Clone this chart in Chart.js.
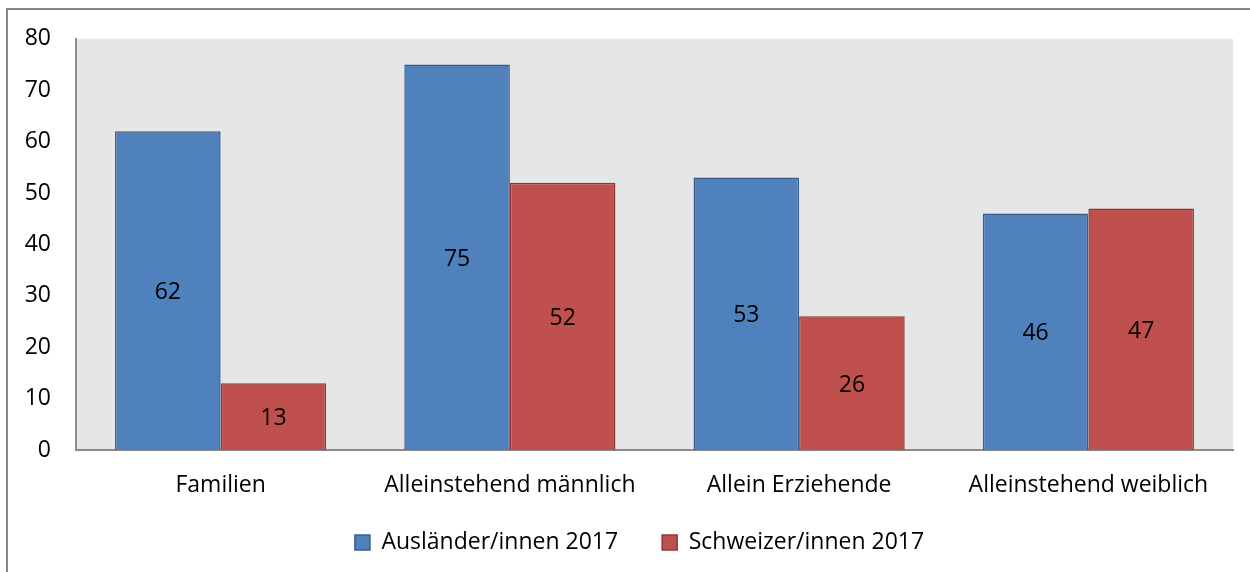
<!DOCTYPE html>
<html lang="de">
    <head>
        <meta charset="utf-8" />
        <script src="https://cdn.jsdelivr.net/npm/chart.js@4.4.1/dist/chart.umd.min.js"></script>
        <style>
            body { margin: 0; background: #fff; }
            #wrap { width: 1250px; height: 572px; }
        </style>
        <title>Ausländer/innen und Schweizer/innen 2017</title>
    </head>
    <body>
        <div id="wrap"><canvas id="grafico"></canvas></div>
        <script>
            // datos
            const kategorien = ["Familien", "Alleinstehend männlich", "Allein Erziehende", "Alleinstehend weiblich"];
            const auslaender = [62, 75, 53, 46];
            const schweizer = [13, 52, 26, 47];
            const yTicks = [0, 10, 20, 30, 40, 50, 60, 70, 80];

            const schrift = { family: "'Open Sans', sans-serif", size: 23 };

            // fondo gris del área y marco exterior
            const fondo = {
                id: "fondo",
                beforeDraw(chart) {
                    const { ctx, chartArea: a } = chart;
                    ctx.save();
                    ctx.fillStyle = "#e6e6e6";
                    ctx.fillRect(a.left, a.top, a.right - a.left, a.bottom - a.top);
                    ctx.strokeStyle = "#868686";
                    ctx.lineWidth = 2;
                    ctx.beginPath();
                    ctx.moveTo(7, 600);
                    ctx.lineTo(7, 9);
                    ctx.lineTo(1260, 9);
                    ctx.stroke();
                    ctx.restore();
                }
            };

            // leyenda algo más a la derecha; etiquetas del eje x sin recorte
            const ajustes = {
                id: "ajustes",
                afterLayout(chart) {
                    chart.legend.left += 23;
                    chart.legend.right += 23;
                    chart.scales.x.bottom += 40;
                }
            };

            // valores dentro de cada barra
            const etiquetas = {
                id: "etiquetas",
                afterDatasetsDraw(chart) {
                    const { ctx } = chart;
                    ctx.save();
                    ctx.fillStyle = "#000";
                    ctx.font = schrift.size + "px " + schrift.family;
                    ctx.textAlign = "center";
                    ctx.textBaseline = "middle";
                    chart.data.datasets.forEach((ds, i) => {
                        chart.getDatasetMeta(i).data.forEach((bar, j) => {
                            ctx.fillText(ds.data[j], bar.x, (bar.y + bar.base) / 2 + 2);
                        });
                    });
                    ctx.restore();
                }
            };

            new Chart(document.getElementById("grafico"), {
                type: "bar",
                data: {
                    labels: kategorien,
                    datasets: [
                        { label: "Ausländer/innen 2017", data: auslaender, backgroundColor: "#4f81bd", borderColor: "#385d8a", borderWidth: 1.5 },
                        { label: "Schweizer/innen 2017", data: schweizer, backgroundColor: "#c0504d", borderColor: "#8c3836", borderWidth: 1.5 }
                    ]
                },
                options: {
                    responsive: true,
                    maintainAspectRatio: false,
                    animation: false,
                    categoryPercentage: 0.73,
                    barPercentage: 1.0,
                    layout: { padding: { top: 28, right: 17, bottom: 8, left: 0 } },
                    plugins: {
                        tooltip: { enabled: false },
                        legend: {
                            position: "bottom",
                            labels: { color: "#000", font: schrift, boxWidth: 15, boxHeight: 15, padding: 44, useBorderRadius: false }
                        }
                    },
                    scales: {
                        x: {
                            grid: { display: false, drawTicks: false },
                            border: { color: "#8c8c8c", width: 2 },
                            ticks: { color: "#000", font: schrift, padding: 22, maxRotation: 0 },
                            afterFit: (s) => { s.height = 37; }
                        },
                        y: {
                            min: 0,
                            max: 80,
                            afterBuildTicks: (s) => { s.ticks = yTicks.map((v) => ({ value: v })); },
                            grid: { display: false, drawTicks: false },
                            border: { color: "#8c8c8c", width: 2 },
                            ticks: { color: "#000", font: schrift, padding: 25 },
                            afterFit: (s) => { s.width = 76; }
                        }
                    }
                },
                plugins: [fondo, ajustes, etiquetas]
            });
        </script>
    </body>
</html>
